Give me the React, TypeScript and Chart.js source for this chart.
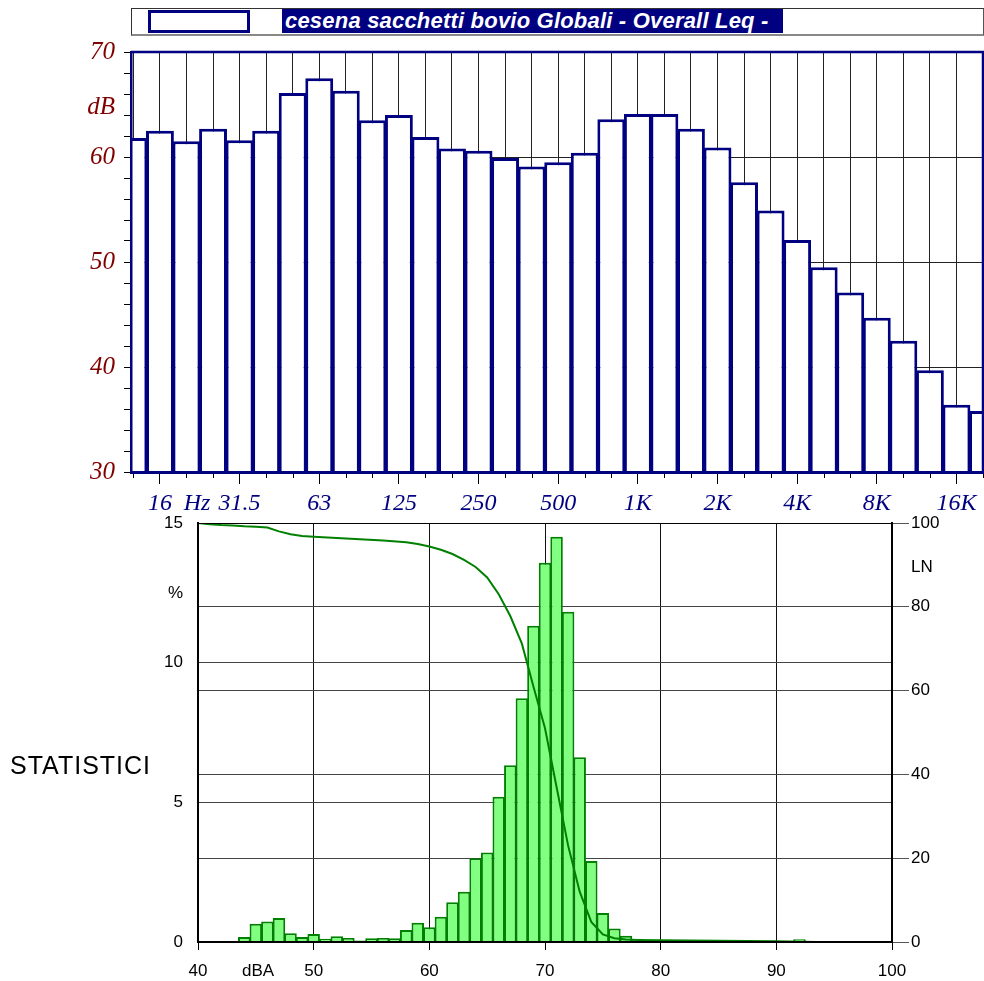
import React, { useEffect, useRef } from 'react';
import { Chart, registerables } from 'chart.js';

Chart.register(...registerables);

// ---------- Top chart: third-octave spectrum ----------
const bandNames = ['12.5', '16', '20', '25', '31.5', '40', '50', '63', '80', '100', '125', '160', '200', '250', '315', '400', '500', '630', '800', '1K', '1.25K', '1.6K', '2K', '2.5K', '3.15K', '4K', '5K', '6.3K', '8K', '10K', '12.5K', '16K', '20K'];
const bandLeq = [61.8, 62.5, 61.5, 62.7, 61.6, 62.5, 66.1, 67.5, 66.3, 63.5, 64.0, 61.9, 60.8, 60.6, 59.9, 59.1, 59.5, 60.4, 63.6, 64.1, 64.1, 62.7, 60.9, 57.6, 54.9, 52.1, 49.5, 47.1, 44.7, 42.5, 39.7, 36.4, 35.8];
const bandAxisLabelAt = ['16', '31.5', '63', '125', '250', '500', '1K', '2K', '4K', '8K', '16K'];
const bandAxisLabels = ['16', '31.5', '63', '125', '250', '500', '1K', '2K', '4K', '8K', '16K'];
const octaveBands = ['16', '31.5', '63', '125', '250', '500', '1K', '2K', '4K', '8K', '16K'];
const hzUnitLabel = 'Hz';
const hzUnitAt = 2.4; // position on the band-index axis
const dbLabelTicks = [30, 40, 50, 60, 70];
const dbGridTicks = [40, 50, 60];
const dbUnitLabel = 'dB';
const dbUnitAt = 64.7;
const legendLabel = 'cesena sacchetti bovio Globali - Overall Leq -';

// ---------- Bottom chart: level statistics ----------
const levelBins = [40, 41, 42, 43, 44, 45, 46, 47, 48, 49, 50, 51, 52, 53, 54, 55, 56, 57, 58, 59, 60, 61, 62, 63, 64, 65, 66, 67, 68, 69, 70, 71, 72, 73, 74, 75, 76, 77, 78, 79, 80, 81, 82, 83, 84, 85, 86, 87, 88, 89, 90, 91, 92, 93];
const levelPercent = [0.02, 0.02, 0.02, 0.03, 0.18, 0.65, 0.73, 0.86, 0.31, 0.18, 0.29, 0.12, 0.21, 0.14, 0.05, 0.13, 0.14, 0.13, 0.43, 0.69, 0.53, 0.9, 1.42, 1.8, 3.0, 3.2, 5.2, 6.33, 8.73, 11.32, 13.58, 14.51, 11.82, 6.61, 2.9, 1.04, 0.48, 0.22, 0.11, 0.06, 0.05, 0.04, 0.04, 0.03, 0.03, 0.03, 0.03, 0.02, 0.02, 0.02, 0.02, 0.02, 0.1, 0.02];
const lnLevels = [40, 41, 42, 43, 44, 45, 46, 47, 48, 49, 50, 52, 54, 56, 58, 59, 60, 61, 62, 63, 64, 65, 66, 67, 68, 69, 70, 71, 72, 73, 74, 75, 76, 77, 78, 80, 85, 90, 93.5];
const lnValues = [100, 99.7, 99.5, 99.4, 99.2, 99.1, 98.9, 98.0, 97.3, 96.9, 96.7, 96.4, 96.1, 95.8, 95.4, 95.0, 94.4, 93.6, 92.6, 91.2, 89.5, 87.0, 83.0, 77.8, 71.2, 61.0, 51.0, 37.0, 23.0, 12.0, 4.8, 1.8, 0.9, 0.6, 0.5, 0.4, 0.3, 0.15, 0];
const levelTicks = [40, 50, 60, 70, 80, 90, 100];
const levelUnitLabel = 'dBA';
const levelUnitAt = 45.2;
const percentTicks = [0, 5, 10, 15];
const percentUnitLabel = '%';
const percentUnitAt = 12.5;
const lnTicks = [0, 20, 40, 60, 80, 100];
const lnUnitLabel = 'LN';
const lnUnitAt = 89.4;
const sideLabel = 'STATISTICI';

const NAVY = '#000080';
const MAROON = '#800000';
const SERIF = '"Liberation Serif", "Times New Roman", serif';
const SANS = '"Liberation Sans", Arial, sans-serif';
const CLEAR = 'rgba(0,0,0,0)';
const X_TICK_LEN = 12;
const X_TICK_PAD = 5;
const X_FONT_SIZE = 24;

const topFrame = {
  id: 'topFrame',
  afterDatasetsDraw(chart: any) {
    const { ctx, chartArea: a, scales } = chart;
    ctx.save();
    ctx.strokeStyle = NAVY;
    ctx.lineWidth = 2.5;
    ctx.beginPath();
    ctx.moveTo(a.left, a.top);
    ctx.lineTo(a.right, a.top);
    ctx.lineTo(a.right, a.bottom);
    ctx.stroke();
    // short tick marks for the non-octave bands
    const x = scales.x;
    ctx.strokeStyle = '#000';
    ctx.lineWidth = 1;
    bandNames.forEach((name, i) => {
      if (octaveBands.includes(name)) return;
      const px = Math.round(x.getPixelForValue(i)) + 0.5;
      ctx.beginPath();
      ctx.moveTo(px, a.bottom);
      ctx.lineTo(px, a.bottom + 6);
      ctx.stroke();
    });
    ctx.restore();
  },
  afterDraw(chart: any) {
    // unit label "Hz" on the frequency axis, between the 20 and 25 Hz bands
    const { ctx, scales } = chart;
    const x = scales.x;
    ctx.save();
    ctx.font = `italic ${X_FONT_SIZE}px ${SERIF}`;
    ctx.fillStyle = NAVY;
    ctx.textAlign = 'center';
    ctx.textBaseline = 'middle';
    const py = x.top + X_TICK_LEN + X_TICK_PAD + (X_FONT_SIZE * 1.2) / 2;
    ctx.fillText(hzUnitLabel, x.getPixelForValue(hzUnitAt), py);
    ctx.restore();
  },
};

const bottomFrame = {
  id: 'bottomFrame',
  afterDatasetsDraw(chart: any) {
    const { ctx, chartArea: a } = chart;
    ctx.save();
    ctx.strokeStyle = '#000';
    ctx.lineWidth = 1;
    ctx.beginPath();
    ctx.moveTo(a.left, Math.round(a.top) + 0.5);
    ctx.lineTo(a.right, Math.round(a.top) + 0.5);
    ctx.stroke();
    ctx.restore();
  },
};

const range = (a: number, b: number) => {
  const out: number[] = [];
  for (let v = a; v <= b; v++) out.push(v);
  return out;
};

export default function App() {
  const topRef = useRef<HTMLCanvasElement>(null);
  const botRef = useRef<HTMLCanvasElement>(null);

  useEffect(() => {
    const top = new Chart(topRef.current as HTMLCanvasElement, {
      type: 'bar',
      data: {
        datasets: [
          {
            data: bandLeq.map((v, i) => ({ x: i, y: v })),
            backgroundColor: '#ffffff',
            borderColor: NAVY,
            borderWidth: 3,
            barPercentage: 1.05,
            categoryPercentage: 1,
            clip: 0,
          } as any,
        ],
      },
      options: {
        responsive: false,
        animation: false,
        events: [],
        layout: { padding: { top: 52, right: 1, left: 0, bottom: 0 } },
        plugins: { legend: { display: false }, tooltip: { enabled: false } },
        scales: {
          x: {
            type: 'linear',
            min: -0.09,
            max: 32,
            offset: false,
            grid: {
              offset: false,
              color: '#222',
              lineWidth: 1,
              tickLength: X_TICK_LEN,
              tickColor: (c: any) => (octaveBands.includes(bandNames[c.tick?.value]) ? '#000' : CLEAR),
            },
            border: { color: NAVY, width: 3, z: 1 },
            ticks: {
              autoSkip: false,
              maxRotation: 0,
              padding: X_TICK_PAD,
              color: NAVY,
              font: { family: SERIF, style: 'italic', size: X_FONT_SIZE },
              callback: (v: any) => {
                const k = bandAxisLabelAt.indexOf(bandNames[v]);
                return k >= 0 ? bandAxisLabels[k] : '';
              },
            },
            afterBuildTicks: (s: any) => {
              s.ticks = bandNames.map((_, i) => ({ value: i }));
            },
            afterFit: (s: any) => {
              s.height = 43;
              s.paddingLeft = 0;
              s.paddingRight = 0;
            },
          },
          y: {
            type: 'linear',
            min: 30,
            max: 70,
            grid: {
              color: (c: any) => (dbGridTicks.includes(c.tick?.value) ? '#222' : CLEAR),
              lineWidth: 1,
              tickLength: 7,
              tickColor: (c: any) => (c.tick && Number.isInteger(c.tick.value) && c.tick.value % 2 === 0 ? '#000' : CLEAR),
            },
            border: { color: NAVY, width: 2.5, z: 1 },
            ticks: {
              autoSkip: false,
              padding: 9,
              color: MAROON,
              font: { family: SERIF, style: 'italic', size: 25 },
              callback: (v: any) => (v === dbUnitAt ? dbUnitLabel : dbLabelTicks.includes(v) ? String(v) : ''),
            },
            afterBuildTicks: (s: any) => {
              const vals = range(30, 70);
              vals.push(dbUnitAt);
              vals.sort((a, b) => a - b);
              s.ticks = vals.map((v) => ({ value: v }));
            },
            afterFit: (s: any) => {
              s.width = 131;
            },
          },
        },
      } as any,
      plugins: [topFrame],
    });

    const bottom = new Chart(botRef.current as HTMLCanvasElement, {
      type: 'bar',
      data: {
        datasets: [
          {
            type: 'line',
            data: lnLevels.map((x, i) => ({ x, y: lnValues[i] })),
            yAxisID: 'yR',
            borderColor: '#008000',
            borderWidth: 2,
            pointRadius: 0,
            tension: 0,
            fill: false,
            order: 0,
          } as any,
          {
            type: 'bar',
            data: levelBins.map((x, i) => ({ x, y: levelPercent[i] })),
            yAxisID: 'y',
            backgroundColor: '#80ff80',
            borderColor: '#008000',
            borderWidth: 2,
            barPercentage: 1.08,
            categoryPercentage: 1,
            clip: 0,
            order: 1,
          } as any,
        ],
      },
      options: {
        responsive: false,
        animation: false,
        events: [],
        layout: { padding: { top: 18, right: 0, left: 0, bottom: 0 } },
        plugins: { legend: { display: false }, tooltip: { enabled: false } },
        scales: {
          x: {
            type: 'linear',
            min: 40,
            max: 100,
            offset: false,
            grid: {
              offset: false,
              color: (c: any) => (c.tick?.value === levelUnitAt ? CLEAR : '#111'),
              lineWidth: 1,
              tickLength: 8,
              tickColor: (c: any) => (c.tick?.value === levelUnitAt ? CLEAR : '#000'),
            },
            border: { color: '#000', width: 2, z: 1 },
            ticks: {
              autoSkip: false,
              maxRotation: 0,
              padding: 11,
              color: '#000',
              font: { family: SANS, size: 17 },
              callback: (v: any) => (v === levelUnitAt ? levelUnitLabel : String(v)),
            },
            afterBuildTicks: (s: any) => {
              s.ticks = [...levelTicks, levelUnitAt].sort((a, b) => a - b).map((v) => ({ value: v }));
            },
            afterFit: (s: any) => {
              s.height = 39;
            },
          },
          y: {
            type: 'linear',
            position: 'left',
            min: 0,
            max: 15,
            grid: {
              color: (c: any) => (c.tick?.value === percentUnitAt ? CLEAR : '#444'),
              lineWidth: 1,
              tickLength: 14,
              tickColor: CLEAR,
            },
            border: { color: '#000', width: 2, z: 1 },
            ticks: {
              autoSkip: false,
              padding: 1,
              color: '#000',
              font: { family: SANS, size: 17 },
              callback: (v: any) => (v === percentUnitAt ? percentUnitLabel : String(v)),
            },
            afterBuildTicks: (s: any) => {
              s.ticks = [...percentTicks, percentUnitAt].sort((a, b) => a - b).map((v) => ({ value: v }));
            },
            afterFit: (s: any) => {
              s.width = 198;
            },
          },
          yR: {
            type: 'linear',
            position: 'right',
            min: 0,
            max: 100,
            grid: {
              color: (c: any) => (c.tick?.value === lnUnitAt ? CLEAR : '#444'),
              lineWidth: 1,
              tickLength: 17,
              tickColor: (c: any) => (c.tick?.value === lnUnitAt ? CLEAR : '#555'),
            },
            border: { color: '#000', width: 2, z: 1 },
            ticks: {
              autoSkip: false,
              padding: 2,
              color: '#000',
              font: { family: SANS, size: 17 },
              callback: (v: any) => (v === lnUnitAt ? lnUnitLabel : String(v)),
            },
            afterBuildTicks: (s: any) => {
              s.ticks = [...lnTicks, lnUnitAt].sort((a, b) => a - b).map((v) => ({ value: v }));
            },
            afterFit: (s: any) => {
              s.width = 92;
            },
          },
        },
      } as any,
      plugins: [bottomFrame],
    });

    return () => {
      top.destroy();
      bottom.destroy();
    };
  }, []);

  return (
    <div style={{ position: 'absolute', left: 0, top: 0, width: 984, height: 981, background: '#fff', overflow: 'hidden' }}>
      <canvas ref={topRef} width={984} height={515} style={{ position: 'absolute', left: 0, top: 0 }} />
      <canvas ref={botRef} width={984} height={476} style={{ position: 'absolute', left: 0, top: 505 }} />
      <div
        style={{
          position: 'absolute',
          left: 131,
          top: 8,
          width: 853,
          height: 28,
          boxSizing: 'border-box',
          borderTop: '1px solid #333',
          borderLeft: '1px solid #333',
          borderRight: '1px solid #555',
          borderBottom: '2px solid #888',
        }}
      />
      <div
        style={{
          position: 'absolute',
          left: 148,
          top: 10,
          width: 102,
          height: 23,
          boxSizing: 'border-box',
          border: `3px solid ${NAVY}`,
          background: '#fff',
        }}
      />
      <div
        style={{
          position: 'absolute',
          left: 282,
          top: 9,
          width: 501,
          height: 24,
          background: NAVY,
          color: '#fff',
          fontFamily: SANS,
          fontWeight: 'bold',
          fontStyle: 'italic',
          fontSize: 22,
          letterSpacing: 0.2,
          lineHeight: '24px',
          paddingLeft: 3,
          boxSizing: 'border-box',
          whiteSpace: 'nowrap',
          overflow: 'hidden',
        }}
      >
        {legendLabel}
      </div>
      <div
        style={{
          position: 'absolute',
          left: 10,
          top: 750,
          fontFamily: SANS,
          fontSize: 25,
          letterSpacing: 1,
          lineHeight: '30px',
          color: '#000',
          whiteSpace: 'nowrap',
        }}
      >
        {sideLabel}
      </div>
    </div>
  );
}
